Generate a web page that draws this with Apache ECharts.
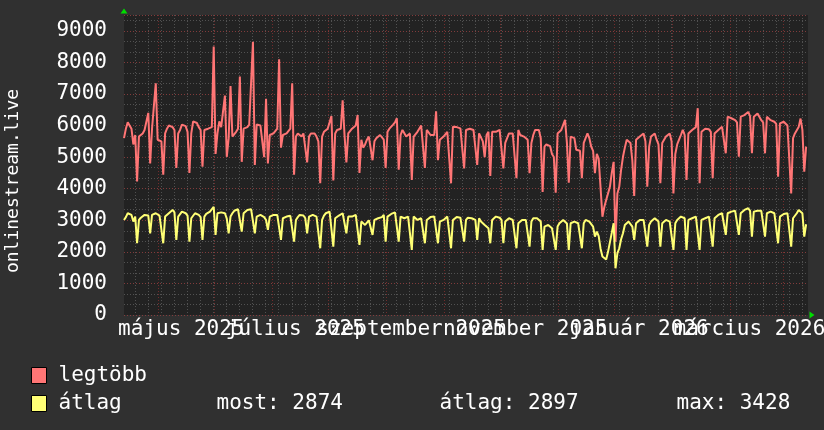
<!DOCTYPE html>
<html><head><meta charset="utf-8">
<script src="https://cdn.jsdelivr.net/npm/echarts@6/dist/echarts.min.js"></script>
<style>html,body{margin:0;padding:0;background:#303030}#c{width:824px;height:430px}</style>
</head><body><div id="c"></div>
<script>
// ---- data ----
const seriesNames = ['legtöbb', 'átlag'];
const legtobb = [5600,
5900,6100,6050,5900,5400,5700,4230,
5650,5700,5750,5860,5900,6400,4800,
5900,5950,7340,5550,5550,5500,4440,
5750,5900,6000,6000,5950,5860,4660,
5750,5860,6030,6000,5980,5800,4500,
5750,6130,6100,6080,5950,5860,4700,
5860,5900,5900,5950,5950,8500,5100,
5750,6130,5950,5900,6950,5010,5600,
7250,5650,5700,5800,5900,7550,4850,
5900,5860,5950,6030,6030,8650,4750,
6030,6030,6000,6030,5000,6850,4800,
5700,5750,5750,5800,5900,8100,5300,
5700,5700,5750,5800,5900,7340,4440,
5650,5750,5700,5650,5750,5700,4830,
5650,5750,5800,5750,5650,5500,4170,
5650,5800,5860,5900,5900,6300,4260,
5750,5860,5880,5900,6800,5700,4830,
5750,5800,5900,5950,6000,6330,4500,
5550,5300,5400,5550,5650,5600,4900,
5500,5600,5650,5700,5650,5550,4660,
5800,5900,5950,6030,6100,6230,4600,
5700,5860,5800,5650,5700,5750,4280,
5650,5700,5800,5900,6000,5950,4660,
5860,5800,5700,5650,5700,6450,4900,
5550,5600,5650,5700,5800,5860,4170,
5960,5960,5950,5960,5910,5860,4640,
5860,5880,5900,5880,5860,5800,4750,
5750,5700,5500,5000,5700,5800,4400,
5800,5800,5800,5850,5860,5800,4640,
5450,5600,5750,5750,5750,5700,4330,
5860,5700,5650,5650,5650,5550,4490,
5450,5700,5860,5860,5860,5600,3900,
5330,5400,5400,5350,5100,5000,3870,
5750,5800,5860,5900,6180,5450,4190,
5650,5650,5600,5230,5230,5200,4330,
5450,5600,5750,5600,5330,5200,4490,
5100,4950,4900,3110,3420,3640,3850,
4060,4500,4850,2320,3850,4060,4600,
5010,5300,5550,5500,5450,4900,3770,
5550,5600,5650,5700,5750,5500,4060,
5330,5650,5700,5750,5550,5400,4170,
5450,5550,5650,5700,5750,5500,3850,
5100,5400,5550,5700,5860,5700,4280,
5750,5800,5860,5900,5950,6550,4170,
5800,5860,5900,5900,5880,5800,4330,
5750,5800,5860,5900,5960,5900,5120,
6280,6250,6230,6200,6170,6100,5010,
6280,6300,6330,6330,6430,6300,5120,
6280,6300,6380,6380,6170,6100,5120,
6280,6250,6170,6150,6120,6050,4380,
6070,6100,6120,6100,6000,5960,3850,
5600,5750,5850,5950,6220,5860,4540,
5330];
const atlag = [3010,
3100,3222,3180,3169,2960,3116,2271,
3010,3080,3116,3170,3222,3150,2588,
3169,3200,3222,3169,3150,3100,2271,
3116,3150,3222,3274,3327,3250,2377,
3116,3170,3274,3250,3222,3150,2324,
3063,3116,3222,3200,3169,3100,2377,
3116,3200,3250,3274,3300,3428,2535,
3222,3274,3250,3222,3222,3050,2588,
3116,3222,3300,3327,3350,3380,2641,
3222,3274,3327,3327,3350,3380,2588,
3116,3150,3169,3150,3100,3010,2694,
3116,3150,3169,3169,3169,3169,2377,
3063,3100,3116,3116,3140,3169,2324,
3010,3100,3169,3169,3150,3063,2588,
3116,3150,3169,3169,3116,3063,2113,
3010,3150,3222,3250,3274,3222,2165,
3063,3116,3150,3200,3222,3200,2588,
3116,3116,3116,3150,3169,3222,2218,
2958,2900,2852,2900,3000,3010,2535,
3010,3030,3063,3063,3100,3169,2324,
3116,3169,3200,3222,3250,3274,2324,
3116,3080,3063,3080,3116,3100,2060,
3116,3100,3010,3030,3063,3063,2271,
3010,3063,3100,3116,3116,3100,2271,
2958,3000,3010,3063,3116,3100,2113,
3010,3063,3100,3116,3080,3063,2324,
3010,3080,3116,3063,3010,3010,2377,
3063,2958,2905,2852,2800,2750,2271,
3010,3063,3116,3116,3080,3010,2271,
2958,3010,3063,3040,3010,3000,2113,
2905,2958,3010,3010,3010,2958,2165,
2958,3063,3116,3063,3010,2958,2060,
2800,2852,2852,2800,2750,2700,2060,
2800,2905,2958,3010,2958,2900,2060,
2905,2958,2958,2905,2905,2880,2113,
2905,3010,3010,2958,2905,2800,2483,
2641,2500,2100,1850,1800,1760,2000,
2300,2600,2905,1480,1954,2113,2400,
2588,2852,2905,2958,2905,2800,2377,
2905,2958,3010,3063,3010,2958,2165,
2852,2958,3010,3063,3010,2958,2165,
2905,2958,3010,3010,2958,2905,2060,
2905,3010,3063,3116,3116,3063,2060,
3010,3063,3063,3116,3116,3063,2060,
3010,3063,3063,3116,3116,3063,2165,
3063,3116,3169,3222,3222,3169,2535,
3222,3274,3274,3327,3300,3250,2535,
3222,3274,3327,3350,3380,3300,2483,
3274,3274,3300,3327,3300,3250,2483,
3222,3250,3274,3222,3222,3200,2271,
3116,3169,3200,3222,3222,3169,2165,
3063,3116,3222,3327,3300,3222,2483,
2874];
const monthLabelText = ['május 2025', 'július 2025', 'szeptember 2025', 'november 2025', 'január 2026', 'március 2026'];
const monthLabelDates = [[2025, 4], [2025, 6], [2025, 8], [2025, 10], [2026, 0], [2026, 2]];
const statTexts = ['most: 2874', 'átlag: 2897', 'max: 3428'];
const yAxisTitle = 'onlinestream.live';

// ---- layout / style ----
const DAY = 86400000;
const START = Date.UTC(2025, 2, 13, 12);
const SPAN_DAYS = 366;
const WEEK_OFFSET = 5.8;
const LABEL_SHIFT = -17.85;
const Y_MAX = 9500;
const FONT = 'DejaVu Sans Mono';

const dayOf = (y, m, d) => (Date.UTC(y, m, d) - START) / DAY;
const monthTicks = [];
{ let y = 2025, m = 2; while (true) { const d = dayOf(y, m, 1); if (d > SPAN_DAYS) break; if (d >= 0) monthTicks.push(d); m++; if (m > 11) { m = 0; y++; } } }
const weekTicks = [];
for (let d = WEEK_OFFSET; d < SPAN_DAYS; d += 7) weekTicks.push(d);
const labelValues = monthLabelDates.map(([y, m]) => dayOf(y, m, 1) + LABEL_SHIFT);
// labels are split over two axes so overlapping neighbours are both drawn
const labelSetA = labelValues.filter((v, i) => i % 2 === 0);
const labelSetB = labelValues.filter((v, i) => i % 2 === 1);
const labelFormatter = v => { const i = labelValues.findIndex(x => Math.abs(x - v) < 0.01); return i >= 0 ? monthLabelText[i] : ''; };

const minorGrid = { color: 'rgba(120,120,120,0.55)', width: 1, type: [1, 2] };
const majorGrid = { color: 'rgba(150,50,50,0.7)', width: 1, type: [1, 2] };
const labelAxis = values => ({
  type: 'value', min: 0, max: SPAN_DAYS, position: 'bottom', z: 2,
  axisLine: { show: false }, axisTick: { show: false }, splitLine: { show: false },
  axisLabel: { show: true, customValues: values, showMinLabel: true, showMaxLabel: true, hideOverlap: false,
    margin: 4, color: '#ffffff', fontFamily: FONT, fontSize: 21, formatter: labelFormatter }
});

const chart = echarts.init(document.getElementById('c'));
chart.setOption({
  animation: false,
  backgroundColor: '#303030',
  grid: { left: 124, right: 16, top: 15, bottom: 115, show: true, backgroundColor: '#222222', borderWidth: 0, outerBoundsMode: 'none', containLabel: false },
  graphic: [{
    type: 'text', x: 13, y: 181, rotation: Math.PI / 2, silent: true,
    style: { text: yAxisTitle, fill: '#ffffff', font: '18px "DejaVu Sans Mono"', align: 'center', verticalAlign: 'middle' }
  }],
  xAxis: [
    { type: 'value', min: 0, max: SPAN_DAYS, position: 'top', z: 0,
      axisLine: { show: false }, axisLabel: { show: false },
      axisTick: { show: false, customValues: weekTicks },
      splitLine: { show: true, lineStyle: minorGrid } },
    { type: 'value', min: 0, max: SPAN_DAYS, position: 'bottom', z: 1,
      axisLine: { show: true, lineStyle: { color: '#00dd00', width: 0 }, symbol: ['none', 'triangle'], symbolSize: [7, 5], symbolOffset: [0, 4] },
      axisTick: { show: false, customValues: monthTicks },
      splitLine: { show: true, lineStyle: majorGrid },
      axisLabel: { show: false } },
    labelAxis(labelSetA),
    labelAxis(labelSetB)
  ],
  yAxis: [
    { type: 'value', min: 0, max: Y_MAX, interval: 1000 / 3, position: 'right', z: 0,
      axisLine: { show: false }, axisLabel: { show: false }, axisTick: { show: false },
      splitLine: { show: true, lineStyle: minorGrid } },
    { type: 'value', min: 0, max: Y_MAX, interval: 1000, position: 'left', z: 1,
      axisLine: { show: true, lineStyle: { color: '#00dd00', width: 0 }, symbol: ['none', 'triangle'], symbolSize: [7, 5], symbolOffset: [0, 4] },
      axisTick: { show: false },
      splitLine: { show: true, lineStyle: majorGrid },
      axisLabel: { show: true, showMaxLabel: false, margin: 17, color: '#ffffff', fontFamily: FONT, fontSize: 21,
        formatter: v => String(v) } }
  ],
  legend: {
    orient: 'vertical', left: 31, top: 365, padding: 0, itemWidth: 15, itemHeight: 16, itemGap: 7, icon: 'rect',
    data: seriesNames,
    itemStyle: { borderColor: '#000000', borderWidth: 1 },
    textStyle: { color: '#ffffff', fontFamily: FONT, fontSize: 21,
      rich: { n: { width: 158, padding: [0, 0, 0, 7], color: '#ffffff', fontFamily: FONT, fontSize: 21 },
              s1: { width: 223, color: '#ffffff', fontFamily: FONT, fontSize: 21 },
              s2: { width: 237, color: '#ffffff', fontFamily: FONT, fontSize: 21 },
              s3: { color: '#ffffff', fontFamily: FONT, fontSize: 21 } } },
    formatter: name => name === seriesNames[1]
      ? `{n|${name}}{s1|${statTexts[0]}}{s2|${statTexts[1]}}{s3|${statTexts[2]}}`
      : `{n|${name}}`
  },
  series: [
    { name: seriesNames[0], type: 'line', xAxisIndex: 1, yAxisIndex: 1, showSymbol: false, symbol: 'none',
      color: '#ff7575', lineStyle: { color: '#ff7575', width: 2 }, data: legtobb.map((v, i) => [i, v]) },
    { name: seriesNames[1], type: 'line', xAxisIndex: 1, yAxisIndex: 1, showSymbol: false, symbol: 'none',
      color: '#ffff75', lineStyle: { color: '#ffff75', width: 2 }, data: atlag.map((v, i) => [i, v]) }
  ]
});
</script></body></html>
